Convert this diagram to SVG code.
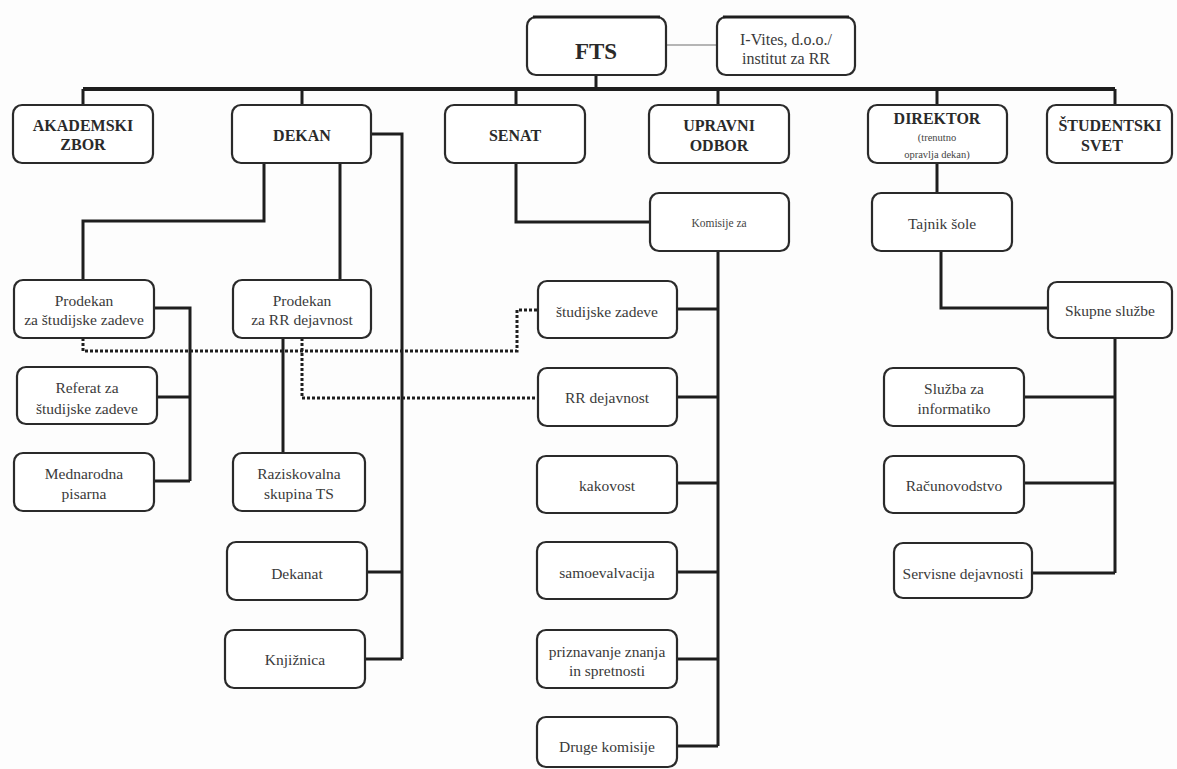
<svg xmlns="http://www.w3.org/2000/svg" width="1177" height="769" viewBox="0 0 1177 769">
<style>
.box{fill:#ffffff;stroke:#2a2a2a;stroke-width:2.2}
text{font-family:'Liberation Serif','DejaVu Serif','Times New Roman',serif;text-anchor:middle;dominant-baseline:central}
.t{font-size:15.5px;fill:#3a3a3a}
.b{font-size:16px;font-weight:bold;fill:#2a2a2a}
.s{font-size:10.5px;fill:#444}
.c{fill:none;stroke:#1e1e1e;stroke-width:3}
.bus{fill:none;stroke:#1e1e1e;stroke-width:4}
.d{fill:none;stroke:#1e1e1e;stroke-width:3;stroke-dasharray:3 2}
.g{fill:none;stroke:#b5b5b5;stroke-width:1.8}
</style>
<rect width="1177" height="769" fill="#fdfdfd"/>
<g id="connectors">
<path class="g" d="M666,45 H717"/>
<path class="c" d="M596,75 V89"/>
<path class="bus" d="M83,89 H1115"/>
<path class="c" d="M83,89 V105 M302,89 V105 M516,89 V105 M718,89 V105 M937,89 V105 M1115,89 V105"/>
<path class="c" d="M264,163 V221 H83 V280"/>
<path class="c" d="M340,163 V280"/>
<path class="c" d="M371,134 H402 V659 M367,572 H402 M365,659 H402"/>
<path class="c" d="M154,308 H190 V481 M157,397 H190 M154,481 H190"/>
<path class="c" d="M283,338 V453"/>
<path class="c" d="M516,163 V222 H650"/>
<path class="c" d="M718,251 V746 M677,309 H718 M677,397 H718 M677,483 H718 M677,572 H718 M677,659 H718 M677,746 H718"/>
<path class="c" d="M937,163 V193"/>
<path class="c" d="M941,251 V308 H1048"/>
<path class="c" d="M1115,338 V573 M1024,397 H1115 M1024,483 H1115 M1032,573 H1115"/>
<path class="d" d="M83,338 V351 H517 V310 H538"/>
<path class="d" d="M302,338 V398 H538"/>
</g>
<g font-family="Liberation Serif, DejaVu Serif, serif">
<g id="fts"><rect class="box" x="527" y="17" width="139" height="58" rx="9"/><path d="M533,17 H660" stroke="#1e1e1e" stroke-width="3"/><text class="b" x="596" y="51" style="font-size:23px">FTS</text></g>
<g id="ivites"><rect class="box" x="717" y="17" width="138" height="58" rx="9"/><path d="M723,17 H849" stroke="#1e1e1e" stroke-width="3"/><text class="t" x="786" y="39" style="font-size:16px">I-Vites, d.o.o./</text><text class="t" x="786" y="58" style="font-size:16px">institut za RR</text></g>
<g id="akademski"><rect class="box" x="13" y="105" width="140" height="58" rx="9"/><text class="b" x="83" y="125">AKADEMSKI</text><text class="b" x="83" y="144">ZBOR</text></g>
<g id="dekan"><rect class="box" x="232" y="105" width="139" height="58" rx="9"/><text class="b" x="302" y="135">DEKAN</text></g>
<g id="senat"><rect class="box" x="445" y="105" width="140" height="58" rx="9"/><text class="b" x="515" y="135">SENAT</text></g>
<g id="upravni"><rect class="box" x="649" y="105" width="140" height="58" rx="9"/><text class="b" x="719" y="125">UPRAVNI</text><text class="b" x="719" y="145">ODBOR</text></g>
<g id="direktor"><rect class="box" x="868" y="105" width="139" height="58" rx="9"/><text class="b" x="937" y="118">DIREKTOR</text><text class="s" x="937" y="137">(trenutno</text><text class="s" x="937" y="154">opravlja dekan)</text></g>
<g id="studentski"><rect class="box" x="1047" y="105" width="125" height="58" rx="9"/><text class="b" x="1110" y="125">ŠTUDENTSKI</text><text class="b" x="1102" y="145">SVET</text></g>
<g id="komisije"><rect class="box" x="650" y="193" width="139" height="58" rx="9"/><text class="s" x="719" y="223" style="font-size:11.5px">Komisije za</text></g>
<g id="tajnik"><rect class="box" x="872" y="193" width="140" height="58" rx="9"/><text class="t" x="942" y="223">Tajnik šole</text></g>
<g id="prodekan-studijske"><rect class="box" x="14" y="280" width="140" height="58" rx="9"/><text class="t" x="84" y="300">Prodekan</text><text class="t" x="84" y="319">za študijske zadeve</text></g>
<g id="prodekan-rr"><rect class="box" x="233" y="280" width="138" height="58" rx="9"/><text class="t" x="302" y="300">Prodekan</text><text class="t" x="302" y="319">za RR dejavnost</text></g>
<g id="studijske-zadeve"><rect class="box" x="538" y="281" width="139" height="57" rx="9"/><text class="t" x="607" y="311">študijske zadeve</text></g>
<g id="skupne"><rect class="box" x="1048" y="282" width="124" height="56" rx="9"/><text class="t" x="1110" y="310">Skupne službe</text></g>
<g id="referat"><rect class="box" x="17" y="367" width="140" height="57" rx="9"/><text class="t" x="87" y="387">Referat za</text><text class="t" x="87" y="408">študijske zadeve</text></g>
<g id="rr-dejavnost"><rect class="box" x="538" y="368" width="139" height="58" rx="9"/><text class="t" x="607" y="397">RR dejavnost</text></g>
<g id="sluzba"><rect class="box" x="884" y="368" width="140" height="58" rx="9"/><text class="t" x="954" y="388">Služba za</text><text class="t" x="954" y="408">informatiko</text></g>
<g id="mednarodna"><rect class="box" x="14" y="453" width="140" height="58" rx="9"/><text class="t" x="84" y="473">Mednarodna</text><text class="t" x="84" y="493">pisarna</text></g>
<g id="raziskovalna"><rect class="box" x="233" y="453" width="132" height="58" rx="9"/><text class="t" x="299" y="473">Raziskovalna</text><text class="t" x="299" y="493">skupina TS</text></g>
<g id="kakovost"><rect class="box" x="537" y="456" width="140" height="57" rx="9"/><text class="t" x="607" y="485">kakovost</text></g>
<g id="racunovodstvo"><rect class="box" x="884" y="456" width="140" height="57" rx="9"/><text class="t" x="954" y="485">Računovodstvo</text></g>
<g id="dekanat"><rect class="box" x="227" y="542" width="140" height="58" rx="9"/><text class="t" x="297" y="573">Dekanat</text></g>
<g id="samoevalvacija"><rect class="box" x="537" y="542" width="140" height="57" rx="9"/><text class="t" x="607" y="572">samoevalvacija</text></g>
<g id="servisne"><rect class="box" x="894" y="543" width="138" height="55" rx="9"/><text class="t" x="963" y="573">Servisne dejavnosti</text></g>
<g id="knjiznica"><rect class="box" x="225" y="630" width="140" height="58" rx="9"/><text class="t" x="295" y="659">Knjižnica</text></g>
<g id="priznavanje"><rect class="box" x="537" y="630" width="140" height="58" rx="9"/><text class="t" x="607" y="651">priznavanje znanja</text><text class="t" x="607" y="670">in spretnosti</text></g>
<g id="druge"><rect class="box" x="537" y="717" width="140" height="50" rx="9"/><text class="t" x="607" y="746">Druge komisije</text></g>
</g>
</svg>
